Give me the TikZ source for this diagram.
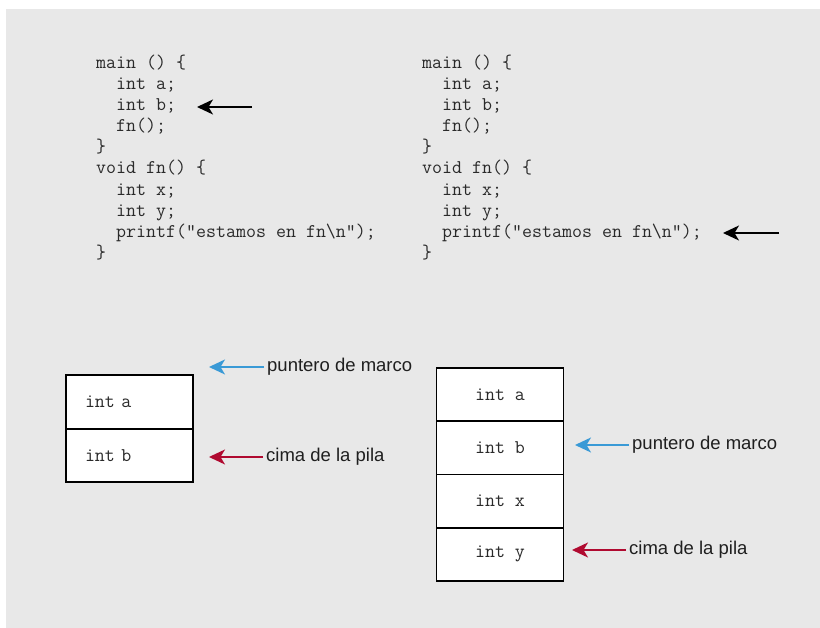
\documentclass[tikz,border=0pt]{standalone}
\usepackage{fontspec}
\setmainfont{Liberation Sans}
\usetikzlibrary{arrows.meta,positioning}

\definecolor{fondo}{HTML}{E8E8E8}
\definecolor{azul}{HTML}{3A9AD6}
\definecolor{rojo}{HTML}{B00A30}
\definecolor{tinta}{HTML}{2A2A2A}

\tikzset{
  codigo/.style={anchor=base west, inner sep=0pt, text=tinta, font=\fontsize{19.4}{21}\ttfamily},
  celda/.style={draw=black, line width=1.7pt, fill=white, outer sep=0pt,
    minimum width=127pt, minimum height=53.5pt, text=tinta, font=\fontsize{19.4}{21}\ttfamily},
  celdaizq/.style={celda, inner xsep=19pt, text width=89pt, align=left},
  etiqueta/.style={anchor=west, inner sep=3pt, text=black!88, font=\fontsize{18.5}{22}\selectfont},
  flecha/.style={line width=1.7pt, -{Stealth[length=16pt,width=15pt,inset=4.5pt]}},
}

\begin{document}
\begin{tikzpicture}[x=1pt,y=-1pt]
\useasboundingbox (0,0) rectangle (820,628);
\fill[fondo] (6,9) rectangle (820,628);

% codigo
\foreach \linea [count=\k] in {{main () \{}, {\ \ int a;}, {\ \ int b;}, {\ \ fn();}, {\}},
    {void fn() \{}, {\ \ int x;}, {\ \ int y;}, {\ \ printf("estamos en fn\textbackslash n");}, {\}}}
{
  \node[codigo] (izq\k) at (96, 47.4+21.1*\k) {\linea};
  \node[codigo] (der\k) at (422, 47.4+21.1*\k) {\linea};
}

\coordinate (colaA) at (252,107);
\coordinate (puntaA) at (197,107);
\draw[flecha] (colaA) -- (puntaA);

\coordinate (colaB) at (779,233);
\coordinate (puntaB) at (723,233);
\draw[flecha] (colaB) -- (puntaB);

% pila antes de fn
\node[celdaizq] (ia) at (129.5,402) {int a};
\node[celdaizq, below=0pt of ia] (ib) {int b};

\node[etiqueta] (marcoI) at (264,367) {puntero de marco};
\coordinate (marcoIp) at (209,367);
\draw[flecha, azul] (marcoI) -- (marcoIp);

\node[etiqueta] (cimaI) at (263,457) {cima de la pila};
\coordinate (cimaIp) at (209,457);
\draw[flecha, rojo] (cimaI) -- (cimaIp);

% pila dentro de fn
\node[celda, minimum height=53.25pt] (da) at (500,394.6) {int a};
\node[celda, minimum height=53.25pt, below=0pt of da] (db) {int b};
\node[celda, minimum height=53.25pt, below=0pt of db] (dx) {int x};
\node[celda, minimum height=53.25pt, below=0pt of dx] (dy) {int y};

\node[etiqueta] (marcoD) at (629,445) {puntero de marco};
\coordinate (marcoDp) at (575,445);
\draw[flecha, azul] (marcoD) -- (marcoDp);

\node[etiqueta] (cimaD) at (626,550) {cima de la pila};
\coordinate (cimaDp) at (572,550);
\draw[flecha, rojo] (cimaD) -- (cimaDp);
\end{tikzpicture}
\end{document}
